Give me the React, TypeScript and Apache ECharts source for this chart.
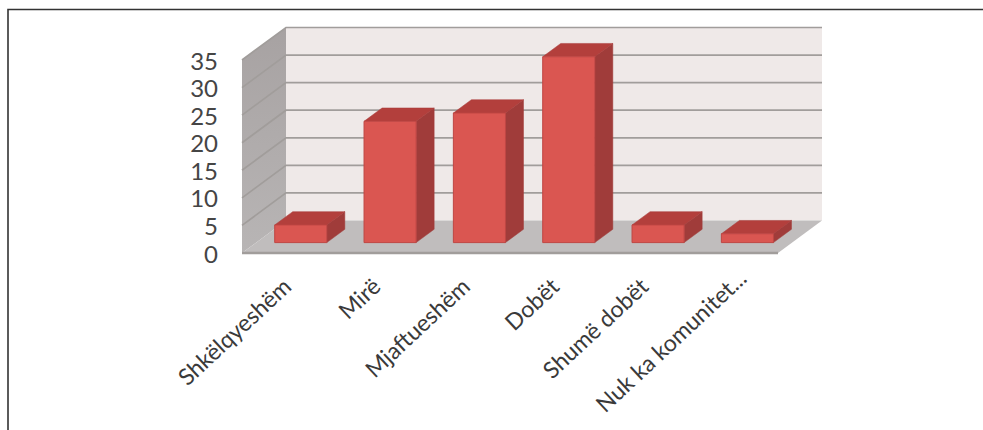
import React, { useEffect, useRef } from "react";
import * as echarts from "echarts";

const categories = ["Shkëlqyeshëm", "Mirë", "Mjaftueshëm", "Dobët", "Shumë dobët", "Nuk ka komunitet..."];
const values = [3.2, 22, 23.5, 33.7, 3.2, 1.6];
const yTicks = [0, 5, 10, 15, 20, 25, 30, 35];

// Oblique depth of the box the columns stand in.
const DEPTH_X = 44;
const DEPTH_Y = -32.5;
// Column placement inside that depth, as fractions of it.
const COL_NEAR = 0.32;
const COL_FAR = 0.73;
const COL_WIDTH = 0.583;

const FONT = "Lato";

function poly(points: number[][], fill: any, stroke = "none", lineWidth = 0) {
  return {
    type: "polygon",
    shape: { points },
    style: { fill, stroke, lineWidth, lineJoin: "round" },
  };
}

function renderBox(params: any) {
  const { x, y, width, height } = params.coordSys;
  const bottom = y + height;
  const wallGrad = new echarts.graphic.LinearGradient(0, 0, 0, 1, [
    { offset: 0, color: "#a7a2a2" },
    { offset: 1, color: "#b8b5b5" },
  ]);
  return {
    type: "group",
    children: [
      poly(
        [[x + DEPTH_X, y + DEPTH_Y], [x + width + DEPTH_X, y + DEPTH_Y], [x + width + DEPTH_X, bottom + DEPTH_Y], [x + DEPTH_X, bottom + DEPTH_Y]],
        "#efe9e8",
      ),
      poly([[x, y], [x + DEPTH_X, y + DEPTH_Y], [x + DEPTH_X, bottom + DEPTH_Y], [x, bottom]], wallGrad),
      poly(
        [[x, bottom], [x + DEPTH_X, bottom + DEPTH_Y], [x + width + DEPTH_X, bottom + DEPTH_Y], [x + width, bottom]],
        "#c0bdbd",
      ),
    ],
  };
}

function renderGridLine(params: any, api: any) {
  const { x, width } = params.coordSys;
  const py = api.coord([0, api.value(0)])[1];
  const isFloor = api.value(0) === 0;
  const color = "#a19d9b";
  const seg = (pts: number[][], w: number) => ({
    type: "polyline",
    shape: { points: pts },
    style: { fill: "none", stroke: color, lineWidth: w },
  });
  if (isFloor) {
    return { type: "group", children: [seg([[x, py], [x + width, py]], 2.4)] };
  }
  return {
    type: "group",
    children: [
      seg([[x, py], [x + DEPTH_X, py + DEPTH_Y], [x + width + DEPTH_X, py + DEPTH_Y]], 1.7),
    ],
  };
}

function renderColumn(params: any, api: any) {
  const i = api.value(0);
  const base = api.coord([i, 0]);
  const top = api.coord([i, api.value(1)]);
  const w = api.size([1, 0])[0] * COL_WIDTH;
  const nearX = COL_NEAR * DEPTH_X;
  const nearY = COL_NEAR * DEPTH_Y;
  const dx = (COL_FAR - COL_NEAR) * DEPTH_X;
  const dy = (COL_FAR - COL_NEAR) * DEPTH_Y;
  const l = base[0] - w / 2 + nearX;
  const r = l + w;
  const b = base[1] + nearY;
  const t = top[1] + nearY;
  return {
    type: "group",
    children: [
      poly([[r, t], [r + dx, t + dy], [r + dx, b + dy], [r, b]], "#a03c3a", "#a03c3a", 0.5),
      poly([[l, t], [l + dx, t + dy], [r + dx, t + dy], [r, t]], "#b33f3c", "#a93a38", 0.5),
      poly([[l, t], [r, t], [r, b], [l, b]], "#da5651", "#bf4643", 1),
    ],
  };
}

export default function App() {
  const ref = useRef<HTMLDivElement>(null);
  useEffect(() => {
    const chart = echarts.init(ref.current!, undefined, { renderer: "svg" });
    chart.setOption({
      animation: false,
      backgroundColor: "#ffffff",
      grid: { left: 242, right: 205, top: 60, bottom: 177 },
      xAxis: {
        type: "category",
        // The truncated last label sits further along its slant than the others.
        data: categories.map((c, i) =>
          i === categories.length - 1 ? { value: c, textStyle: { padding: [0, -12, 0, 0] } } : c,
        ),
        axisLine: { show: false },
        axisTick: { show: false },
        splitLine: { show: false },
        axisLabel: {
          interval: 0,
          rotate: 43,
          margin: 29,
          fontFamily: FONT,
          fontSize: 23,
          color: "#3a3a3a",
          hideOverlap: false,
        },
      },
      yAxis: {
        type: "value",
        min: 0,
        max: 35,
        interval: 5,
        axisLine: { show: false },
        axisTick: { show: false },
        splitLine: { show: false },
        axisLabel: { margin: 24, fontFamily: FONT, fontSize: 24, color: "#454545" },
      },
      graphic: [
        {
          type: "polyline",
          silent: true,
          shape: { points: [[8, 430], [8, 9.5], [983, 9.5]] },
          style: { fill: "none", stroke: "#333333", lineWidth: 1.6 },
        },
      ],
      series: [
        { type: "custom", z: 1, silent: true, renderItem: renderBox, data: [0] },
        {
          type: "custom",
          z: 2,
          silent: true,
          renderItem: renderGridLine,
          encode: { x: -1, y: 0 },
          data: yTicks.map((t) => [t]),
        },
        {
          type: "custom",
          z: 3,
          silent: true,
          renderItem: renderColumn,
          encode: { x: 0, y: 1 },
          data: values.map((v, i) => [i, v]),
        },
      ],
    });
    return () => chart.dispose();
  }, []);
  return <div ref={ref} style={{ position: "fixed", left: 0, top: 0, width: 983, height: 430 }} />;
}
